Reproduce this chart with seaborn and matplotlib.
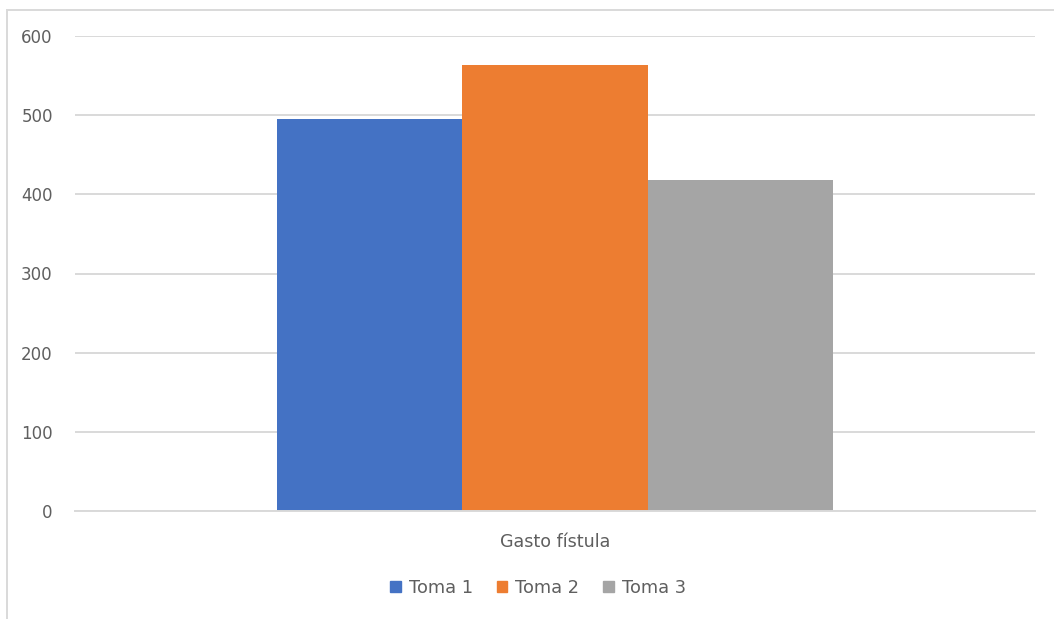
import matplotlib
matplotlib.use("Agg")
import matplotlib.pyplot as plt
from matplotlib.patches import Rectangle
import pandas as pd
import seaborn as sns

categories = ["Gasto fístula"]
series = ["Toma 1", "Toma 2", "Toma 3"]
values = [495, 563, 418]
colors = ["#4472C4", "#ED7D31", "#A5A5A5"]
yticks = [0, 100, 200, 300, 400, 500, 600]

df = pd.DataFrame({
    "categoria": categories * len(series),
    "serie": series,
    "valor": values,
})

sns.set_theme(style="white")
plt.rcParams["font.family"] = ["DejaVu Sans"]
text_color = "#5F5F5F"
grid_color = "#D9D9D9"

fig = plt.figure(figsize=(10.54, 6.19), dpi=100)
ax = fig.add_axes([75 / 1054, 1 - 511 / 619, 960 / 1054, 475 / 619])

sns.barplot(data=df, x="categoria", y="valor", hue="serie", palette=colors,
            width=0.58, gap=0, saturation=1, linewidth=0, ax=ax, legend=False)

ax.set_xlim(-0.5, 0.5)
ax.set_ylim(0, 600)
ax.set_yticks(yticks)
ax.set_yticklabels([str(t) for t in yticks])
ax.yaxis.grid(True, color=grid_color, linewidth=1.4)
ax.set_axisbelow(True)
for side in ["left", "right", "top"]:
    ax.spines[side].set_visible(False)
ax.spines["bottom"].set_color(grid_color)
ax.spines["bottom"].set_linewidth(1.4)
ax.tick_params(axis="y", length=0, pad=16, labelsize=12, labelcolor=text_color)
ax.tick_params(axis="x", length=0, pad=16, labelsize=12.6, labelcolor=text_color)
ax.set_xlabel("")
ax.set_ylabel("")

handles = [Rectangle((0, 0), 1, 1, color=c) for c in colors]
fig.legend(handles, series, loc="center", bbox_to_anchor=(538 / 1054, 1 - 588 / 619),
           ncol=3, frameon=False, handlelength=0.6, handleheight=0.6,
           handletextpad=0.45, columnspacing=1.35, fontsize=12.8,
           labelcolor=text_color)

# chart area outline
fig.patches.append(Rectangle((7 / 1054, -0.05), 1.2, 1 - 10 / 619 + 0.05,
                             transform=fig.transFigure, fill=False,
                             edgecolor=grid_color, linewidth=1.4))

fig.savefig("out.png", dpi=100, facecolor="white")
